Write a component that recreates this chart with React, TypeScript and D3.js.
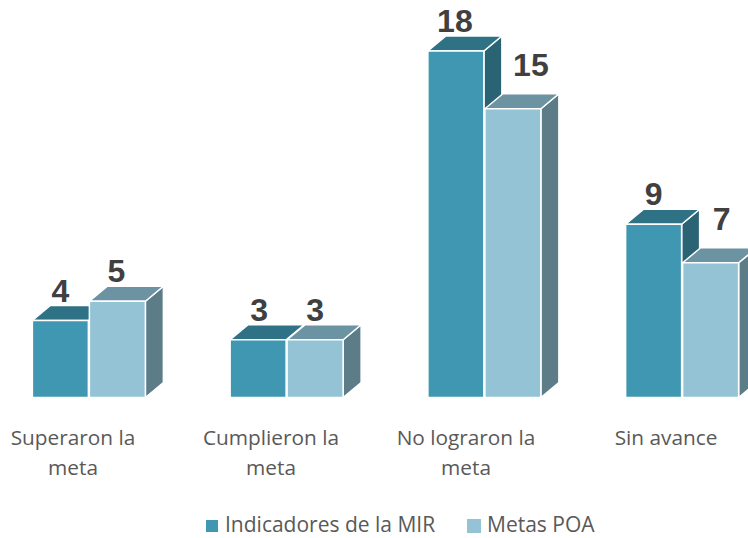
import React from "react";
import * as d3 from "d3";

const categories = ["Superaron la meta", "Cumplieron la meta", "No lograron la meta", "Sin avance"];
const categoryLines = [["Superaron la", "meta"], ["Cumplieron la", "meta"], ["No lograron la", "meta"], ["Sin avance"]];
const indicadores = [4, 3, 18, 9];
const metas = [5, 3, 15, 7];
const seriesNames = ["Indicadores de la MIR", "Metas POA"];
const palettes = [
  { front: "#4097B1", top: "#2F7286", side: "#2A6373" },
  { front: "#94C3D5", top: "#6C93A2", side: "#5C7C88" },
];

// manual label placement offsets, per series then category
const labelShiftX = [[-1, 0, -2, -1], [-1, 0, 18, 11]];
const labelShiftY = [[0, 0, 0, 0], [0, 0, -14, -14]];
const categoryCenters = [73, 271, 466, 666];

const W = 748, H = 538;
const baseY = 397.5, dx = 18, dy = -15;
const y = d3.scaleLinear().domain([0, 18]).range([baseY, 51]);
const x0 = d3.scaleBand().domain(categories).range([-9.5, 781.5]).paddingInner(0).paddingOuter(0);
const barW = 56;

const path = d3.line();

export default function App() {
  const bars = [indicadores, metas];
  return (
    <svg width={W} height={H} viewBox={`0 0 ${W} ${H}`} style={{ position: "absolute", left: 0, top: 0, display: "block", background: "#fff" }}>
      {categories.map((c, i) => {
        const cx = x0(c)! + x0.bandwidth() / 2 - 0.5;
        return (
          <g key={c}>
            {bars.map((vals, s) => {
              const l = cx - barW + s * barW + (s === 0 ? -0.5 : 0.5);
              const r = l + barW;
              const t = y(vals[i]);
              const pal = palettes[s];
              const pts = {
                front: [[l, t], [r, t], [r, baseY], [l, baseY]],
                top: [[l, t], [l + dx, t + dy], [r + dx, t + dy], [r, t]],
                side: [[r, t], [r + dx, t + dy], [r + dx, baseY + dy], [r, baseY]],
              } as Record<string, [number, number][]>;
              return (
                <g key={s} stroke="#fff" strokeWidth={1.5} strokeLinejoin="round">
                  <path d={path(pts.side)! + "Z"} fill={pal.side} />
                  <path d={path(pts.top)! + "Z"} fill={pal.top} />
                  <path d={path(pts.front)! + "Z"} fill={pal.front} />
                </g>
              );
            })}
            {bars.map((vals, s) => (
              <text key={s} x={cx - barW / 2 + s * barW + 0.5 + labelShiftX[s][i]} y={y(vals[i]) - 19 + labelShiftY[s][i]} textAnchor="middle"
                fontFamily="Liberation Sans" fontWeight="bold" fontSize={32} fill="#404040">{vals[i]}</text>
            ))}
            {categoryLines[i].map((ln, k) => (
              <text key={k} x={categoryCenters[i]} y={445 + k * 30} textAnchor="middle"
                fontFamily="Open Sans" fontSize={20.8} fill="#595959">{ln}</text>
            ))}
          </g>
        );
      })}
      <rect x={206} y={520} width={12} height={12} fill={palettes[0].front} />
      <text x={225} y={532} fontFamily="Open Sans" fontSize={21} fill="#595959">{seriesNames[0]}</text>
      <rect x={467} y={519} width={14} height={14} fill={palettes[1].front} />
      <text x={487} y={532} fontFamily="Open Sans" fontSize={21} fill="#595959">{seriesNames[1]}</text>
    </svg>
  );
}
